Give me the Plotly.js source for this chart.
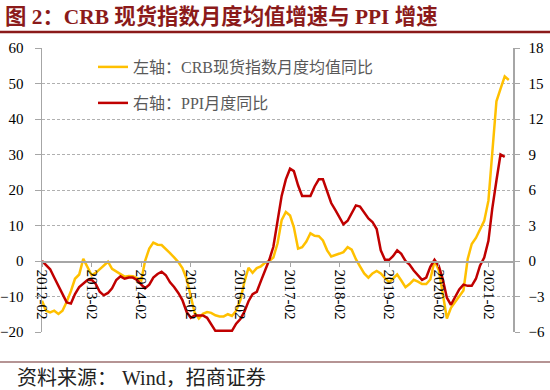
<!DOCTYPE html>
<html>
<head>
<meta charset="utf-8">
<script src="https://cdn.plot.ly/plotly-3.0.1.min.js"></script>
<style>html,body{margin:0;padding:0;background:#fff;}#chart{width:550px;height:390px;}</style>
</head>
<body>
<div id="chart"></div>
<script>
// Monthly series starting 2012-02
const startYear = 2012, startMonth = 2;
// CRB spot index, monthly mean YoY (%), left axis, 2012-02 .. 2021-07
const crbYoY = [
 -11.2,-14.0,-14.5,-14.0,-14.9,-14.0,-11.5,-8.5,-5.0,-3.8,0.6,
 -1.5,-4.0,-3.4,-2.3,-1.2,-0.2,-2.2,-3.0,-3.8,-4.4,-4.2,-4.3,
 -4.8,-5.5,0.0,3.5,5.2,4.6,4.5,3.2,2.2,1.0,-0.3,-2.0,
 -5.0,-10.0,-14.5,-16.2,-14.9,-14.4,-14.6,-15.3,-15.6,-15.6,-15.0,-15.5,
 -14.0,-11.0,-6.0,-1.9,-3.3,-2.0,-1.5,-0.5,0.0,1.0,5.0,11.5,
 13.8,12.8,9.5,3.5,3.9,5.5,7.8,7.1,7.0,5.8,3.0,1.3,
 1.8,2.1,2.5,3.9,3.2,0.5,-1.5,-3.5,-4.7,-3.5,-2.8,-3.5,
 -4.8,-6.0,-5.0,-3.8,-5.5,-7.4,-6.5,-5.3,-5.8,-6.5,-6.5,-5.2,
 0.0,-2.5,-9.0,-16.2,-13.2,-11.5,-10.0,-8.3,0.5,4.8,6.5,9.0,
 11.3,17.0,30.0,45.0,48.5,52.0,51.0
];
// PPI YoY (%), right axis, 2012-02 .. 2021-06
const ppiYoY = [
 0.0,-0.3,-0.7,-1.4,-2.1,-2.9,-3.5,-3.6,-2.8,-2.2,-1.9,
 -1.6,-1.6,-1.9,-2.6,-2.9,-2.7,-2.3,-1.6,-1.3,-1.5,-1.4,-1.4,
 -1.6,-2.0,-2.3,-2.0,-1.4,-1.1,-0.9,-1.2,-1.8,-2.2,-2.7,-3.3,
 -4.3,-4.8,-4.6,-4.6,-4.6,-4.8,-5.4,-5.9,-5.9,-5.9,-5.9,-5.9,
 -5.3,-4.9,-4.3,-3.4,-2.8,-2.6,-1.7,-0.8,0.1,1.2,3.3,5.5,
 6.9,7.8,7.6,6.4,5.5,5.5,5.5,6.3,6.9,6.9,5.8,4.9,
 4.3,3.7,3.1,3.4,4.1,4.7,4.6,4.1,3.6,3.3,2.7,0.9,
 0.1,0.1,0.4,0.9,0.6,0.0,-0.3,-0.8,-1.2,-1.6,-1.4,-0.5,
 0.1,-0.4,-1.5,-3.1,-3.7,-3.0,-2.4,-2.0,-2.1,-2.1,-1.5,-0.4,
 0.3,1.7,4.4,6.8,9.0,8.8
];
const leftTicks = [-20,-10,0,10,20,30,40,50,60];
const rightTicks = [-6,-3,0,3,6,9,12,15,18];
const seriesNames = ['左轴：CRB现货指数月度均值同比','右轴：PPI月度同比'];
const titleText = '图 2：CRB 现货指数月度均值增速与 PPI 增速';
const sourceText = '资料来源： Wind，招商证券';

function monthDates(n){
  const out=[];
  for(let i=0;i<n;i++){
    const t = startMonth-1+i;
    const y = startYear + Math.floor(t/12);
    const m = (t%12)+1;
    out.push(y+'-'+String(m).padStart(2,'0')+'-01');
  }
  return out;
}

const FONT = '"Liberation Serif", "Times New Roman", "Noto Sans CJK SC", serif';
const W=550,H=390,L=42,R=37,T=48,B=58;
const pw=W-L-R, ph=H-T-B;
const px2x = x => (x-L)/pw;
const py2y = y => (H-B-y)/ph;

const traces = [
 {x: monthDates(crbYoY.length), y: crbYoY, type:'scatter', mode:'lines', name:seriesNames[0],
  line:{color:'#FFC000', width:2.5}, yaxis:'y', legend:'legend'},
 {x: monthDates(ppiYoY.length), y: ppiYoY, type:'scatter', mode:'lines', name:seriesNames[1],
  line:{color:'#C00000', width:2.5}, yaxis:'y2', legend:'legend2'}
];

const axisGray = '#A6A6A6';
const layout = {
  width:W, height:H,
  margin:{l:L, r:R, t:T, b:B, pad:0, autoexpand:false},
  paper_bgcolor:'#fff', plot_bgcolor:'#fff',
  font:{family:FONT, size:15, color:'#000'},
  title:{text:'<b>'+titleText+'</b>', font:{family:FONT, size:21.4, color:'#8B1A1A'},
    x:5/W, xanchor:'left', xref:'container', y:1-17/H, yanchor:'middle', yref:'container'},
  xaxis:{type:'date', range:['2012-02-01','2021-08-01'], anchor:'free', position:0.25,
    showline:true, linecolor:axisGray, linewidth:1.5, ticks:'outside', ticklen:4, tickcolor:axisGray,
    tick0:'2012-02-01', dtick:'M12', tickformat:'%Y-%m', tickangle:90,
    tickfont:{size:15, color:'#000'}, showgrid:false, zeroline:false, automargin:false},
  yaxis:{range:[-20,60], tickvals:leftTicks, ticks:'outside', ticklen:6, tickcolor:axisGray,
    showline:true, linecolor:axisGray, linewidth:1.5, showgrid:true, gridcolor:'#B0B0B0',
    griddash:'3px,2px', gridwidth:1, zeroline:false, tickfont:{size:15, color:'#000'},
    ticklabelstandoff:8, automargin:false},
  yaxis2:{range:[-6,18], tickvals:rightTicks, overlaying:'y', side:'right', ticks:'outside',
    ticklen:5, tickcolor:axisGray, showline:true, linecolor:axisGray, linewidth:1.5,
    showgrid:false, zeroline:false, tickfont:{size:15, color:'#000'}, ticklabelstandoff:6, automargin:false},
  legend:{x:px2x(93), xref:'paper', xanchor:'left', y:py2y(67), yref:'paper', yanchor:'middle',
    bgcolor:'rgba(0,0,0,0)', font:{size:16, color:'#595959', family:FONT}},
  legend2:{x:px2x(93), xref:'paper', xanchor:'left', y:py2y(103), yref:'paper', yanchor:'middle',
    bgcolor:'rgba(0,0,0,0)', font:{size:16, color:'#595959', family:FONT}},
  showlegend:true,
  shapes:[
    {type:'line', xref:'paper', yref:'paper', x0:px2x(0), x1:px2x(W), y0:py2y(32), y1:py2y(32),
     line:{color:'#8B1A1A', width:2.5}},
    {type:'line', xref:'paper', yref:'paper', x0:px2x(0), x1:px2x(W), y0:py2y(362), y1:py2y(362),
     line:{color:'#9C7070', width:1.5}}
  ],
  annotations:[
    {text:sourceText, xref:'paper', yref:'paper', x:px2x(15), y:py2y(378), xanchor:'left', yanchor:'middle',
     showarrow:false, font:{family:FONT, size:20, color:'#222'}}
  ]
};

Plotly.newPlot('chart', traces, layout, {staticPlot:true, displayModeBar:false});
</script>
</body>
</html>
